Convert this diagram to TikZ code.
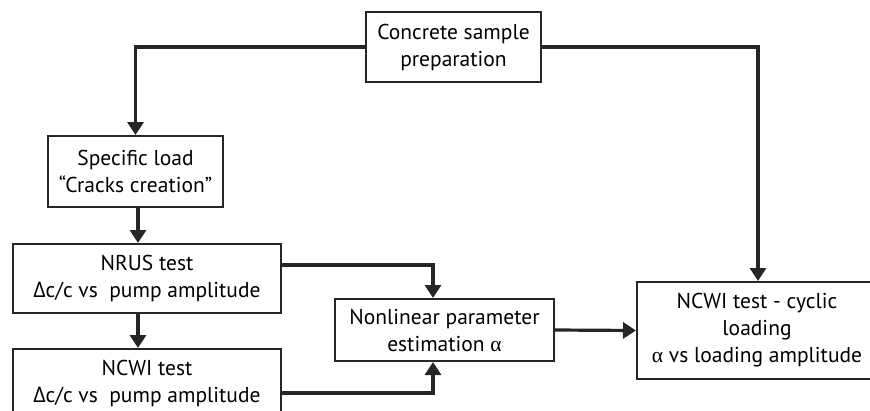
\documentclass[tikz,border=0pt]{standalone}
\usepackage{fontspec}
\setmainfont{PT Sans}
\newfontfamily\grk{Open Sans}
\newfontfamily\alf{Liberation Serif}
\usetikzlibrary{arrows.meta,calc}
\newcommand{\dlt}{{\grk Δ}}
\newcommand{\alp}{{\alf α}}
\begin{document}
\begin{tikzpicture}[x=1pt,y=1pt,
  box/.style={draw=black!85,line width=2pt,fill=white,align=center,inner sep=0pt,
    font=\fontsize{21.5}{27}\selectfont},
  conn/.style={draw=black!85,line width=3.2pt},
  arr/.style={conn,-{Triangle[width=16pt,length=13pt]}}]
\useasboundingbox (0,0) rectangle (870,-410);
\clip (0,0) rectangle (870,-410);
\node[box,minimum width=175pt,minimum height=70pt] (top) at (453.5,-47) {Concrete sample\\preparation};
\node[box,minimum width=175pt,minimum height=71pt] (spec) at (135.5,-171.5) {Specific load\\“Cracks creation”};
\node[box,minimum width=268pt,minimum height=69pt] (nrus) at (147,-278.5) {NRUS test\\\dlt c/c vs\ \ pump amplitude};
\node[box,minimum width=268pt,minimum height=69pt] (ncwi) at (147,-383.5) {NCWI test\\\dlt c/c vs\ \ pump amplitude};
\node[box,minimum width=219pt,minimum height=62pt] (nl) at (444.5,-330) {Nonlinear parameter\\estimation \alp};
\node[box,minimum width=240pt,minimum height=97pt] (cyc) at (757,-330.5) {NCWI test - cyclic\\loading\\\alp\ vs loading amplitude};
\coordinate (nlin) at ($(nl.north)+(-11.5,0)$);
\coordinate (nlinb) at ($(nl.south)+(-11.5,0)$);
\coordinate (nrout) at ($(nrus.east)+(0,13.5)$);
\coordinate (ncout) at ($(ncwi.east)+(0,-9.5)$);
\coordinate (vx) at ($(spec.south)+(2.5,0)$);
\draw[arr] (top.west) -| (spec.north);
\draw[arr] (top.east) -| ($(cyc.north)+(1,0)$);
\draw[arr] (vx) -- (vx |- nrus.north);
\draw[arr] (vx |- nrus.south) -- (vx |- ncwi.north);
\draw[arr] (nrout) -| (nlin);
\draw[arr] (ncout) -| (nlinb);
\draw[arr] (nl.east) -- (cyc.west);
\end{tikzpicture}
\end{document}
